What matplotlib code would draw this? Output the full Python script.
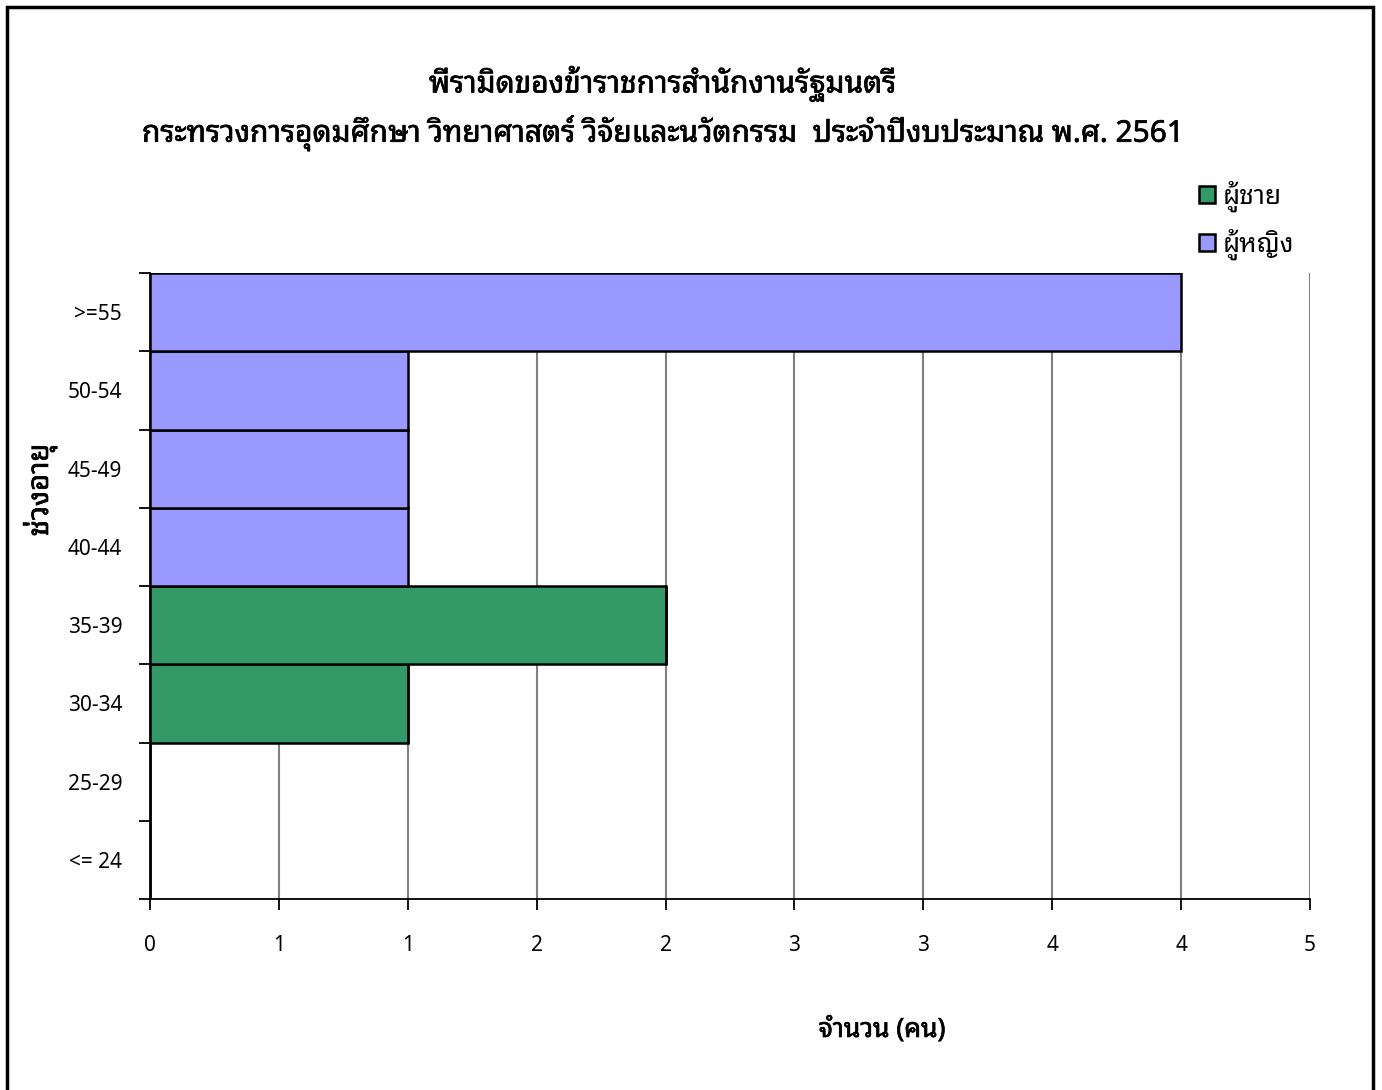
import matplotlib
matplotlib.use('Agg')
import matplotlib.pyplot as plt
import matplotlib.patches as patches
import matplotlib.patheffects as pe

plt.rcParams['font.family'] = ['Noto Sans Thai Looped', 'Noto Sans Thai', 'Tahoma', 'DejaVu Sans']

# age groups, bottom to top
age_groups = ['<= 24', '25-29', '30-34', '35-39', '40-44', '45-49', '50-54', '>=55']
male = [0, 0, 1, 2, 0, 0, 0, 0]
female = [0, 0, 0, 0, 1, 1, 1, 4]

x_ticks = [0, 0.5, 1.0, 1.5, 2.0, 2.5, 3.0, 3.5, 4.0, 4.5]
x_tick_labels = ['0', '1', '1', '2', '2', '3', '3', '4', '4', '5']

title_lines = ['พีรามิดของข้าราชการสำนักงานรัฐมนตรี',
               'กระทรวงการอุดมศึกษา วิทยาศาสตร์ วิจัยและนวัตกรรม  ประจำปีงบประมาณ พ.ศ. 2561']

green = '#339966'
lavender = '#9999FF'

# the Thai font has no bold face, so thicken strokes instead
heavy = [pe.withStroke(linewidth=0.5, foreground='black')]

W, H = 1382, 1090
fig = plt.figure(figsize=(W / 100, H / 100), dpi=100)
ax = fig.add_axes([150 / W, 1 - 899 / H, (1310 - 150) / W, (899 - 273) / H])

pos = list(range(len(age_groups)))
b1 = ax.barh(pos, male, height=1.0, color=green, edgecolor='black', linewidth=1.8,
             label='ผู้ชาย', zorder=3)
b2 = ax.barh(pos, female, left=male, height=1.0, color=lavender, edgecolor='black',
             linewidth=1.8, label='ผู้หญิง', zorder=3)

ax.set_xlim(0, 4.5)
ax.set_ylim(-0.5, len(age_groups) - 0.5)

ax.set_xticks(x_ticks, x_tick_labels)
ax.tick_params(axis='x', direction='out', length=8, width=1.3, pad=18,
               labelsize=15, colors='black')

# tick marks on category boundaries, labels centred in each band
ax.set_yticks([p - 0.5 for p in pos] + [len(age_groups) - 0.5])
ax.set_yticklabels([])
ax.set_yticks(pos, minor=True)
ax.set_yticklabels(age_groups, minor=True)
ax.tick_params(axis='y', which='major', direction='out', length=8, width=1.3)
ax.tick_params(axis='y', which='minor', length=0, pad=20, labelsize=15)

ax.grid(axis='x', color='#808080', linewidth=1.5)
ax.set_axisbelow(True)
for s in ['top', 'right']:
    ax.spines[s].set_visible(False)
for s in ['left', 'bottom']:
    ax.spines[s].set_linewidth(1.3)

fig.text(663 / W, 1 - 84 / H, title_lines[0], ha='center', va='center',
         fontsize=21.5, path_effects=heavy)
fig.text(663 / W, 1 - 133 / H, title_lines[1], ha='center', va='center',
         fontsize=21.5, path_effects=heavy)

fig.text(40 / W, 1 - 490 / H, 'ช่วงอายุ', rotation=90, ha='center', va='center',
         fontsize=21, path_effects=heavy)
fig.text(882 / W, 1 - 1030 / H, 'จำนวน (คน)', ha='center', va='center',
         fontsize=19, path_effects=heavy)

fig.legend(handles=[b1, b2], loc='upper left', bbox_to_anchor=(1199 / W, 1 - 181 / H),
           frameon=False, fontsize=19, handlelength=0.6, handleheight=0.6,
           handletextpad=0.28, labelspacing=0.62, borderpad=0, borderaxespad=0)

# chart border
fig.patches.append(patches.Rectangle((7 / W, -0.02), (1373 - 7) / W, 1.02 - 7 / H,
                                     transform=fig.transFigure, fill=False,
                                     edgecolor='black', linewidth=2.5))

fig.savefig('out.png', dpi=100)
